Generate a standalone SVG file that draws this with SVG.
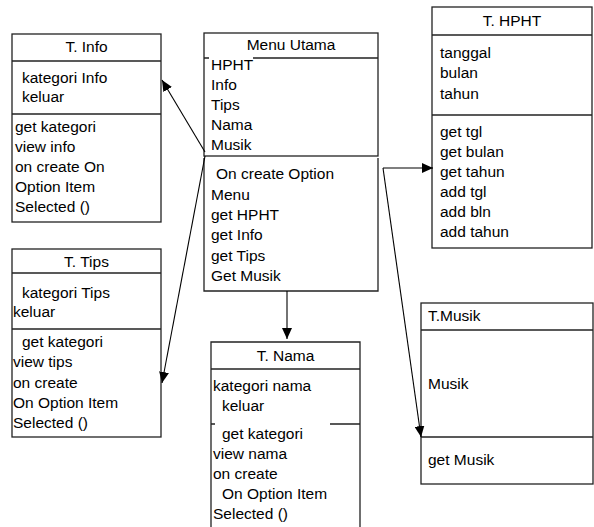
<svg xmlns="http://www.w3.org/2000/svg" width="594" height="527" viewBox="0 0 594 527">
<defs>
<marker id="ah" markerUnits="userSpaceOnUse" markerWidth="12" markerHeight="10" refX="11" refY="5" orient="auto">
<path d="M0,0 L11,5 L0,10 Z" fill="#000"/>
</marker>
<style>
text{font-family:"Liberation Sans",Arial,sans-serif;font-size:15.5px;fill:#000}
.b{fill:#fff;stroke:#222;stroke-width:1.3}
.l{stroke:#222;stroke-width:1.3;fill:none}
.c{stroke:#000;stroke-width:1.1;fill:none;marker-end:url(#ah)}
.m{text-anchor:middle}
</style>
</defs>
<rect width="594" height="527" fill="#fff"/>

<g id="tinfo">
<rect class="b" x="12" y="34" width="149" height="188"/>
<line class="l" x1="12" y1="61" x2="161" y2="61"/>
<line class="l" x1="12" y1="114" x2="161" y2="114"/>
<text class="m" x="86.5" y="52">T. Info</text>
<text x="22" y="83">kategori Info</text>
<text x="22" y="102">keluar</text>
<text x="15" y="132">get kategori</text>
<text x="15" y="152">view info</text>
<text x="15" y="172">on create On</text>
<text x="15" y="192">Option Item</text>
<text x="15" y="212">Selected ()</text>
</g>

<g id="menu">
<rect class="b" x="204" y="33" width="174" height="123"/>
<path class="l" d="M204,58 H209 M253,58 H378"/>
<path class="l" d="M204,158 V291 H378 V158"/>
<text class="m" x="291" y="50">Menu Utama</text>
<text x="211" y="70">HPHT</text>
<text x="211" y="90">Info</text>
<text x="211" y="110">Tips</text>
<text x="211" y="130">Nama</text>
<text x="211" y="150">Musik</text>
<text x="216" y="179">On create Option</text>
<text x="211" y="199.5">Menu</text>
<text x="211" y="220">get HPHT</text>
<text x="211" y="240">get Info</text>
<text x="211" y="260.5">get Tips</text>
<text x="211" y="281">Get Musik</text>
</g>

<g id="thpht">
<rect class="b" x="432" y="7" width="160" height="241"/>
<line class="l" x1="432" y1="35" x2="592" y2="35"/>
<line class="l" x1="432" y1="115" x2="592" y2="115"/>
<text class="m" x="512" y="26">T. HPHT</text>
<text x="440" y="58">tanggal</text>
<text x="440" y="78">bulan</text>
<text x="440" y="99">tahun</text>
<text x="440" y="137">get tgl</text>
<text x="440" y="157">get bulan</text>
<text x="440" y="177">get tahun</text>
<text x="440" y="197">add tgl</text>
<text x="440" y="217">add bln</text>
<text x="440" y="237">add tahun</text>
</g>

<g id="ttips">
<rect class="b" x="12" y="249" width="149" height="188"/>
<line class="l" x1="12" y1="273" x2="161" y2="273"/>
<line class="l" x1="12" y1="329" x2="161" y2="329"/>
<text class="m" x="86.5" y="267">T. Tips</text>
<text x="22" y="298">kategori Tips</text>
<text x="13" y="317">keluar</text>
<text x="22" y="347">get kategori</text>
<text x="13" y="367">view tips</text>
<text x="13" y="388">on create</text>
<text x="13" y="408">On Option Item</text>
<text x="13" y="428">Selected ()</text>
</g>

<g id="tnama">
<path class="b" d="M211,528 V342 H360 V528"/>
<line class="l" x1="211" y1="369" x2="360" y2="369"/>
<path class="l" d="M211,424 H215 M330,424 H360"/>
<text class="m" x="285.5" y="361">T. Nama</text>
<text x="213" y="391">kategori nama</text>
<text x="222" y="411">keluar</text>
<text x="222" y="438.5">get kategori</text>
<text x="213" y="458.5">view nama</text>
<text x="213" y="479">on create</text>
<text x="222" y="499">On Option Item</text>
<text x="213" y="519">Selected ()</text>
</g>

<g id="tmusik">
<rect class="b" x="421" y="303" width="172" height="181"/>
<line class="l" x1="421" y1="330" x2="593" y2="330"/>
<line class="l" x1="421" y1="437" x2="593" y2="437"/>
<text x="428" y="320.5">T.Musik</text>
<text x="428" y="389">Musik</text>
<text x="428" y="465">get Musik</text>
</g>

<g id="connectors">
<line class="c" x1="205" y1="152" x2="162" y2="80"/>
<line class="c" x1="205" y1="156" x2="162" y2="383"/>
<line class="c" x1="287" y1="291" x2="287" y2="339"/>
<line class="c" x1="383" y1="168" x2="433" y2="168"/>
<line class="c" x1="383" y1="168" x2="421" y2="437"/>
</g>
</svg>
